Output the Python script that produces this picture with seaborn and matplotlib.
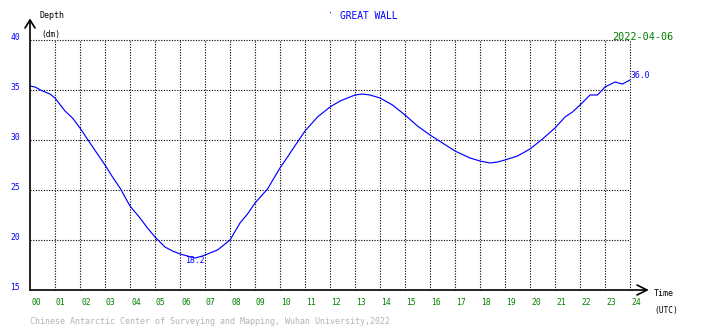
import matplotlib
matplotlib.use("Agg")
import matplotlib.pyplot as plt
from matplotlib.lines import Line2D
from matplotlib.transforms import ScaledTranslation
import pandas as pd
import seaborn as sns

# Tide gauge record, hours (UTC) and water depth (dm)
hours = [0, 0.2, 0.5, 0.8, 1.0, 1.4, 1.7, 2.0, 2.4, 2.7, 3.0, 3.3, 3.6, 4.0,
         4.4, 4.7, 5.0, 5.4, 5.7, 6.0, 6.3, 6.6, 6.9, 7.1, 7.5, 8.0, 8.4, 8.7,
         9.0, 9.5, 10.0, 10.3, 10.7, 11.0, 11.5, 12.0, 12.4, 12.7, 13.0, 13.3,
         13.6, 14.0, 14.5, 15.0, 15.5, 16.0, 16.5, 17.0, 17.6, 18.0, 18.4,
         18.7, 19.0, 19.5, 20.0, 20.5, 21.0, 21.4, 21.7, 22.0, 22.4, 22.7,
         23.0, 23.4, 23.7, 24.0]
depth = [35.4, 35.3, 34.9, 34.6, 34.2, 32.9, 32.2, 31.2, 29.7, 28.6, 27.5, 26.3,
         25.2, 23.4, 22.2, 21.2, 20.3, 19.3, 18.9, 18.6, 18.4, 18.2, 18.4, 18.6,
         19.0, 20.0, 21.7, 22.6, 23.7, 25.1, 27.2, 28.3, 29.8, 30.9, 32.3, 33.3,
         33.9, 34.2, 34.5, 34.6, 34.5, 34.2, 33.5, 32.5, 31.4, 30.5, 29.7, 28.9,
         28.2, 27.9, 27.7, 27.8, 28.0, 28.4, 29.1, 30.1, 31.2, 32.3, 32.8, 33.5,
         34.5, 34.5, 35.3, 35.8, 35.6, 36.0]

x_ticks = list(range(0, 25))
x_labels = [f"{h:02d}" for h in x_ticks]
y_ticks = [15, 20, 25, 30, 35, 40]
y_labels = [str(v) for v in y_ticks]

station = "GREAT WALL"
date_str = "2022-04-06"
min_label = "18.2"
end_label = "36.0"
credit = "Chinese Antarctic Center of Surveying and Mapping, Wuhan University,2022"

sns.set_style("white")
plt.rcParams["font.family"] = ["DejaVu Sans Mono"]

W, H = 710, 328
fig = plt.figure(figsize=(W / 100, H / 100), dpi=100)
fig.patch.set_facecolor("white")


def fx(px):
    return px / W


def fy(py):
    return 1 - py / H


ax = fig.add_axes([fx(30), fy(290), (630 - 30) / W, (290 - 40) / H])
ax.set_facecolor("white")

df = pd.DataFrame({"hour": hours, "depth": depth})
sns.lineplot(data=df, x="hour", y="depth", ax=ax, color="#0000ff",
             linewidth=0.85, clip_on=False)

ax.set_xlim(0, 24)
ax.set_ylim(15, 40)
ax.set_xlabel("")
ax.set_ylabel("")

# dotted grid, including the top and right edges
for h in x_ticks[1:]:
    ax.axvline(h, color="black", linestyle=(0, (1, 1.4)), linewidth=0.8,
               clip_on=False, zorder=0)
for v in y_ticks[1:]:
    ax.axhline(v, color="black", linestyle=(0, (1, 1.4)), linewidth=0.8,
               clip_on=False, zorder=0)

for s in ["top", "right", "left", "bottom"]:
    ax.spines[s].set_visible(False)

ax.set_xticks(x_ticks)
ax.set_xticklabels(x_labels)
ax.set_yticks(y_ticks)
ax.set_yticklabels(y_labels)
ax.tick_params(axis="x", length=0, pad=6, labelcolor="#008000", labelsize=5.8)
ax.tick_params(axis="y", length=0, pad=14, labelcolor="#0000ff", labelsize=5.8)
for lab in ax.get_xticklabels():
    lab.set_ha("left")
    lab.set_transform(lab.get_transform() + ScaledTranslation(1 / 100, 0, fig.dpi_scale_trans))
for lab in ax.get_yticklabels():
    lab.set_ha("left")
    lab.set_transform(lab.get_transform() + ScaledTranslation(0, 3 / 100, fig.dpi_scale_trans))

# axis lines with open arrowheads
axis_kw = dict(color="black", linewidth=1.2, transform=fig.transFigure)
fig.add_artist(Line2D([fx(30), fx(30)], [fy(290), fy(20)], **axis_kw))
fig.add_artist(Line2D([fx(25), fx(30), fx(35)], [fy(28), fy(20), fy(28)], **axis_kw))
fig.add_artist(Line2D([fx(30), fx(647)], [fy(290), fy(290)], **axis_kw))
fig.add_artist(Line2D([fx(637), fx(647), fx(637)], [fy(285), fy(290), fy(295)], **axis_kw))

# value labels on the curve
ax.text(6.63, 17.95, min_label, color="#0000ff", fontsize=5.9, ha="center", va="center")
ax.text(24.0, 36.5, end_label, color="#0000ff", fontsize=5.9, ha="left", va="center")

# annotations around the frame
fig.text(fx(40), fy(16), "Depth", color="black", fontsize=6.0, va="center", ha="left")
fig.text(fx(41), fy(34), "(dm)", color="black", fontsize=5.7, va="center", ha="left")
fig.text(fx(654), fy(294), "Time", color="black", fontsize=6.0, va="center", ha="left")
fig.text(fx(654), fy(310), "(UTC)", color="black", fontsize=5.7, va="center", ha="left")
fig.text(fx(330), fy(14), "\u00b7", color="#0000ff", fontsize=6, va="center", ha="center")
fig.text(fx(340), fy(16), station, color="#0000ff", fontsize=6.9, va="center", ha="left")
fig.text(fx(612), fy(37), date_str, color="#008000", fontsize=7.3, va="center", ha="left")
fig.text(fx(30), fy(321), credit, color="#b4b4b4", fontsize=6.0, va="center", ha="left")

fig.savefig("out.png", dpi=100, facecolor="white")
